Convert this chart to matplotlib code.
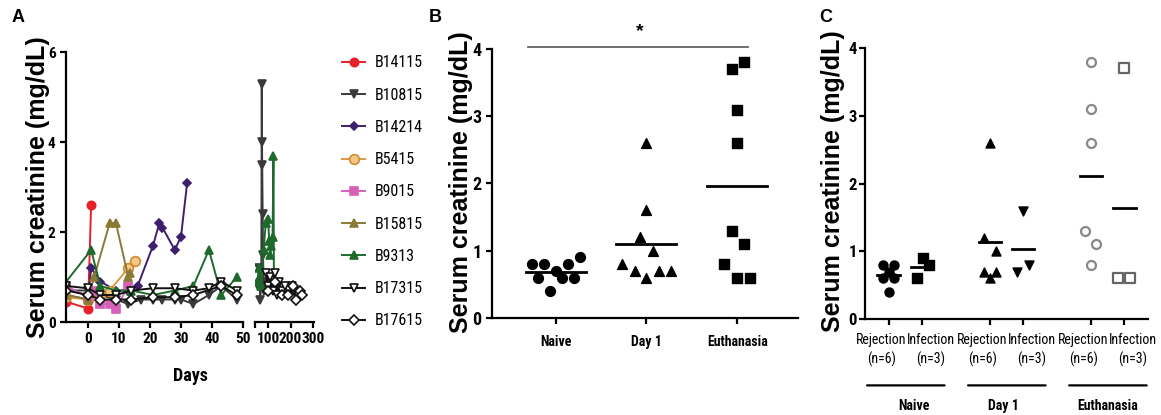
import matplotlib
matplotlib.use('Agg')
import matplotlib.pyplot as plt
from matplotlib import font_manager
from matplotlib.lines import Line2D
import numpy as np

W, H = 1161, 415

# ---- panel A: creatinine over time, per animal ----
b14115_days = [-7, 0, 1]
b14115_vals = [0.45, 0.3, 2.6]

b10815_days = [-7, 0, 4, 9, 13, 17, 21, 24, 28, 30, 34, 39, 43, 48,
               55, 60, 65, 70, 72, 73, 74, 76, 78, 80, 85]
b10815_vals = [0.7, 0.7, 0.6, 0.5, 0.4, 0.5, 0.5, 0.5, 0.5, 0.5, 0.4, 0.6, 0.8, 0.5,
               0.8, 1.2, 0.5, 0.9, 5.3, 4.0, 3.5, 2.4, 1.5, 0.7, 0.9]

b14214_days = [-7, 0, 1, 4, 9, 13, 16, 21, 23, 24, 28, 30, 32]
b14214_vals = [0.6, 0.5, 1.2, 0.9, 0.7, 0.7, 0.8, 1.7, 2.2, 2.1, 1.6, 1.9, 3.1]

b5415_days = [-7, 0, 4, 7, 13, 15]
b5415_vals = [0.55, 0.5, 0.6, 0.7, 1.2, 1.35]

b9015_days = [-7, 0, 2, 4, 7, 9, 13]
b9015_vals = [0.8, 0.55, 0.7, 0.4, 0.4, 0.3, 0.8]

b15815_days = [-7, 0, 2, 7, 9, 13, 13.5]
b15815_vals = [0.6, 0.5, 1.0, 2.2, 2.2, 1.0, 1.1]

b9313_days = [-7, 1, 4, 9, 14, 21, 28, 34, 39, 43, 48, 52, 60, 70, 80, 90,
              100, 105, 110, 115, 120, 124, 126]
b9313_vals = [0.9, 1.6, 0.8, 0.7, 0.7, 0.6, 0.7, 0.8, 1.6, 0.6, 1.0, 0.9, 1.2, 0.8, 1.6, 2.2,
              2.3, 1.8, 1.5, 1.7, 1.9, 3.7, 0.8]

b17315_days = [-7, 0, 4, 9, 14, 21, 28, 34, 39, 43, 48,
               90, 100, 110, 120, 130, 140, 150, 160, 175, 190, 205, 215]
b17315_vals = [0.8, 0.75, 0.6, 0.6, 0.7, 0.75, 0.75, 0.7, 0.75, 0.9, 0.7,
               1.1, 0.8, 1.0, 0.7, 1.1, 0.6, 0.9, 0.7, 0.8, 0.6, 0.8, 0.7]

b17615_days = [-7, 0, 4, 9, 14, 21, 28, 34, 43, 48,
               100, 130, 160, 190, 210, 225, 240, 250]
b17615_vals = [0.7, 0.6, 0.5, 0.5, 0.5, 0.55, 0.55, 0.6, 0.8, 0.6,
               0.7, 0.9, 0.6, 0.6, 0.8, 0.5, 0.7, 0.6]

# ---- panel B: all animals by time point ----
b_groups = ['Naive', 'Day 1', 'Euthanasia']
naive_vals = [0.8, 0.8, 0.6, 0.4, 0.7, 0.6, 0.8, 0.6, 0.9]
naive_dx = [-0.26, -0.13, -0.19, -0.06, 0.01, 0.07, 0.14, 0.2, 0.27]
day1_vals = [0.8, 0.7, 1.2, 0.6, 1.6, 2.6, 1.0, 0.7, 0.7]
day1_dx = [-0.27, -0.13, -0.07, 0, 0, 0, 0.07, 0.14, 0.27]
euth_vals = [3.7, 3.8, 3.1, 2.6, 1.3, 1.1, 0.8, 0.6, 0.6]
euth_dx = [-0.06, 0.07, 0, 0, -0.06, 0.07, -0.14, 0, 0.14]

# ---- panel C: split by outcome ----
c_ticklabels = ['Rejection\n(n=6)', 'Infection\n(n=3)'] * 3
c_timepoints = ['Naive', 'Day 1', 'Euthanasia']
naive_rej = [0.8, 0.8, 0.6, 0.6, 0.4, 0.7]
naive_rej_dx = [-0.17, 0.17, -0.17, 0.17, 0, 0]
naive_inf = [0.6, 0.9, 0.8]
naive_inf_dx = [-0.15, 0.03, 0.2]
day1_rej = [2.6, 1.2, 1.0, 0.7, 0.7, 0.6]
day1_rej_dx = [0, -0.18, 0.2, -0.18, 0.2, 0]
day1_inf = [1.6, 0.7, 0.8]
day1_inf_dx = [0, -0.18, 0.18]
euth_rej = [3.8, 3.1, 2.6, 1.3, 1.1, 0.8]
euth_rej_dx = [0, 0, 0, -0.16, 0.17, 0]
euth_inf = [3.7, 0.6, 0.6]
euth_inf_dx = [0, -0.18, 0.18]

names = {f.name for f in font_manager.fontManager.ttflist}
narrow = 'Liberation Sans'
condensed = False
for cand in ['Liberation Sans Narrow', 'Arial Narrow', 'Roboto Condensed',
             'DejaVu Sans Condensed', 'Open Sans Condensed']:
    if cand in names:
        narrow = cand
        condensed = True
        break
# shrink text a bit when no condensed face exists
shrink = 1.0 if condensed else 0.85

plt.rcParams['font.family'] = ['Liberation Sans', 'DejaVu Sans']
plt.rcParams['axes.linewidth'] = 1.6
plt.rcParams['xtick.major.width'] = 1.6
plt.rcParams['ytick.major.width'] = 1.6
plt.rcParams['xtick.major.size'] = 4
plt.rcParams['ytick.major.size'] = 4

fig = plt.figure(figsize=(W / 100, H / 100), dpi=100)


def px_axes(l, t, r, b):
    return fig.add_axes([l / W, 1 - b / H, (r - l) / W, (b - t) / H])


def style(ax, left=True):
    for s in ['top', 'right']:
        ax.spines[s].set_visible(False)
    if not left:
        ax.spines['left'].set_visible(False)
        ax.tick_params(axis='y', left=False, labelleft=False)


def ticklabel_font(ax, size, weight='bold', axis='both'):
    labels = []
    if axis in ('both', 'x'):
        labels += ax.get_xticklabels()
    if axis in ('both', 'y'):
        labels += ax.get_yticklabels()
    for lab in labels:
        lab.set_family(narrow)
        lab.set_fontsize(size)
        lab.set_fontweight(weight)


ylab = 'Serum creatinine (mg/dL)'

# ================= panel A =================
series = [
    ('B14115', b14115_days, b14115_vals, dict(color='#e8202a', marker='o', mfc='#e8202a', mec='#e8202a', ms=6)),
    ('B10815', b10815_days, b10815_vals, dict(color='#3a3a3a', marker='v', mfc='#3a3a3a', mec='#3a3a3a', ms=6)),
    ('B14214', b14214_days, b14214_vals, dict(color='#3d1f6e', marker='D', mfc='#3d1f6e', mec='#3d1f6e', ms=4.5)),
    ('B5415', b5415_days, b5415_vals, dict(color='#d89a45', marker='o', mfc='#f3c985', mec='#d08a35', ms=7)),
    ('B9015', b9015_days, b9015_vals, dict(color='#d660b8', marker='s', mfc='#d660b8', mec='#d660b8', ms=6)),
    ('B15815', b15815_days, b15815_vals, dict(color='#8a7a35', marker='^', mfc='#8a7a35', mec='#8a7a35', ms=6)),
    ('B9313', b9313_days, b9313_vals, dict(color='#1d6a2c', marker='^', mfc='#1d6a2c', mec='#1d6a2c', ms=6)),
    ('B17315', b17315_days, b17315_vals, dict(color='#111111', marker='v', mfc='white', mec='#111111', ms=6)),
    ('B17615', b17615_days, b17615_vals, dict(color='#111111', marker='D', mfc='white', mec='#111111', ms=5)),
]

axA1 = px_axes(66, 52, 243, 322)
axA2 = px_axes(255, 52, 314, 322)
for ax, keep in ((axA1, lambda d: d <= 50), (axA2, lambda d: d > 50)):
    for name, d, v, st in series:
        d = np.array(d, dtype=float)
        v = np.array(v, dtype=float)
        m = keep(d)
        if m.any():
            ax.plot(d[m], v[m], lw=1.4, mew=1.2, **st)
    ax.set_ylim(0, 6)
    style(ax, left=(ax is axA1))
axA1.set_xlim(-7.1, 50)
axA1.set_xticks([0, 10, 20, 30, 40, 50])
axA1.set_yticks([0, 2, 4, 6])
axA2.set_xlim(42, 304)
axA2.set_xticks([42, 100, 200, 300])
axA2.set_xticklabels(['', '100', '200', '300'])
ticklabel_font(axA1, 11 * shrink)
ticklabel_font(axA2, 11 * shrink)
fig.text(38 / W, 1 - 187 / H, ylab, rotation=90, ha='center', va='center',
         fontsize=18, fontweight='bold')
fig.text(190 / W, 1 - 376 / H, 'Days', ha='center', va='center',
         fontsize=13, fontweight='bold', family=narrow)

handles = [Line2D([], [], lw=1.4, mew=1.2, **st) for _, _, _, st in series]
fig.legend(handles, [s[0] for s in series], loc='upper left',
           bbox_to_anchor=(328 / W, 1 - 41 / H), frameon=False,
           handlelength=1.4, handletextpad=0.6, labelspacing=1.08,
           prop=dict(family=narrow, size=11.5))

# ================= panel B =================
axB = px_axes(492, 49, 798, 318)
style(axB)
b_data = [(naive_vals, naive_dx, 'o'), (day1_vals, day1_dx, '^'), (euth_vals, euth_dx, 's')]
for i, (vals, dx, m) in enumerate(b_data):
    x = i + 1 + np.array(dx)
    axB.scatter(x, vals, marker=m, s=50, color='black', zorder=3)
    mean = np.mean(vals)
    axB.plot([i + 1 - 0.33, i + 1 + 0.33], [mean, mean], color='black', lw=2)
axB.set_xlim(0.3, 3.67)
axB.set_ylim(0, 4)
axB.set_xticks([1, 2, 3])
axB.set_xticklabels(b_groups)
axB.set_yticks([0, 1, 2, 3, 4])
ticklabel_font(axB, 10, axis='x')
ticklabel_font(axB, 13, axis='y')
axB.tick_params(axis='x', pad=8)
axB.plot([0.7, 3.12], [4.03, 4.03], color='#555555', lw=1.2, clip_on=False)
axB.text(1.93, 4.26, '*', ha='center', va='center', fontsize=14, fontweight='bold')
fig.text(461 / W, 1 - 182 / H, ylab, rotation=90, ha='center', va='center',
         fontsize=18, fontweight='bold')

# ================= panel C =================
axC = px_axes(865, 48, 1148, 319)
style(axC)
c_pos = [1, 2, 4, 5, 7, 8]
c_data = [
    (naive_rej, naive_rej_dx, dict(marker='o', color='black')),
    (naive_inf, naive_inf_dx, dict(marker='s', color='black')),
    (day1_rej, day1_rej_dx, dict(marker='^', color='black')),
    (day1_inf, day1_inf_dx, dict(marker='v', color='black')),
    (euth_rej, euth_rej_dx, dict(marker='o', facecolors='white', edgecolors='#888888', linewidths=1.6)),
    (euth_inf, euth_inf_dx, dict(marker='s', facecolors='white', edgecolors='#666666', linewidths=1.6)),
]
for p, (vals, dx, st) in zip(c_pos, c_data):
    axC.scatter(p + np.array(dx), vals, s=42, zorder=3, **st)
    mean = np.mean(vals)
    axC.plot([p - 0.33, p + 0.33], [mean, mean], color='black', lw=2)
axC.set_xlim(0.3, 8.7)
axC.set_ylim(0, 4)
axC.set_xticks(c_pos)
axC.set_xticklabels([])
axC.set_yticks([0, 1, 2, 3, 4])
ticklabel_font(axC, 12, axis='y')
axC.tick_params(axis='y', pad=2)
# two-line category labels sit slightly apart from their ticks
for k, (p, lab) in enumerate(zip(c_pos, c_ticklabels)):
    off = -0.22 if k % 2 == 0 else 0.25
    axC.annotate(lab, xy=(p + off, -0.05), xycoords=('data', 'axes fraction'),
                 ha='center', va='top', fontsize=10 * shrink, family=narrow,
                 linespacing=1.4)
for k, grp in enumerate(c_timepoints):
    a, b = c_pos[2 * k], c_pos[2 * k + 1]
    shift = [0.25, -0.1, 0.0][k]
    axC.annotate('', xy=(a - 0.64, -0.245), xytext=(b + 0.66, -0.245),
                 xycoords=('data', 'axes fraction'), textcoords=('data', 'axes fraction'),
                 arrowprops=dict(arrowstyle='-', lw=1.6, color='black', shrinkA=0, shrinkB=0))
    axC.annotate(grp, xy=((a + b) / 2 + shift, -0.32), xycoords=('data', 'axes fraction'),
                 ha='center', va='center', fontsize=10 * shrink, fontweight='bold', family=narrow)
fig.text(833 / W, 1 - 181 / H, ylab, rotation=90, ha='center', va='center',
         fontsize=18, fontweight='bold')

# panel letters
for letter, x in [('A', 18), ('B', 435), ('C', 826)]:
    fig.text(x / W, 1 - 17 / H, letter, ha='center', va='center',
             fontsize=13, fontweight='bold')

fig.savefig('out.png', dpi=100)
